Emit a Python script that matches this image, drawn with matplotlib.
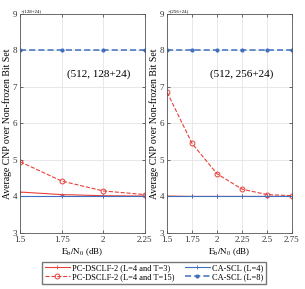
import matplotlib.pyplot as plt

plt.rcParams['font.family'] = ['Liberation Serif', 'DejaVu Serif']
plt.rcParams['mathtext.fontset'] = 'stix'

# data
snr_a = [1.5, 1.75, 2.0, 2.25]
dsclf_t3_a = [4.12, 4.05, 4.02, 4.01]
dsclf_t15_a = [4.95, 4.42, 4.15, 4.05]
scl4_a = [4.0, 4.0, 4.0, 4.0]
scl8_a = [8.0, 8.0, 8.0, 8.0]

snr_b = [1.5, 1.75, 2.0, 2.25, 2.5, 2.75]
dsclf_t3_b = [4.01, 4.0, 4.0, 4.0, 4.0, 4.0]
dsclf_t15_b = [6.85, 5.45, 4.62, 4.2, 4.05, 4.02]
scl4_b = [4.0, 4.0, 4.0, 4.0, 4.0, 4.0]
scl8_b = [8.0, 8.0, 8.0, 8.0, 8.0, 8.0]

red = '#e8403a'
blue = '#3f6fbf'

fig = plt.figure(figsize=(3.05, 2.89), dpi=100)
ax1 = fig.add_axes([0.066, 0.194, 0.409, 0.758])
ax2 = fig.add_axes([0.548, 0.194, 0.409, 0.758])

panels = [
    (ax1, snr_a, dsclf_t3_a, dsclf_t15_a, scl4_a, scl8_a, '(512, 128+24)', '×(128+24)', 1.97),
    (ax2, snr_b, dsclf_t3_b, dsclf_t15_b, scl4_b, scl8_b, '(512, 256+24)', '×(256+24)', 2.25),
]

for ax, x, t3, t15, s4, s8, note, expo, tx in panels:
    l1, = ax.plot(x, t3, '-', color=red, lw=0.8, marker='+', ms=3, mew=0.6)
    l2, = ax.plot(x, t15, '--', color=red, lw=0.8, marker='o', ms=3.5, mfc='none', mew=0.7)
    l3, = ax.plot(x, s4, '-', color=blue, lw=0.8, marker='+', ms=3, mew=0.6)
    l4, = ax.plot(x, s8, '--', color=blue, lw=1.1, marker='.', ms=4, dashes=(4, 2))
    ax.set_xlim(x[0], x[-1])
    ax.set_ylim(3, 9)
    ax.set_xticks(x)
    ax.set_xticklabels(['%g' % v for v in x])
    ax.set_yticks(range(3, 10))
    ax.grid(True, color='#e4e4e4', lw=0.6)
    ax.set_axisbelow(True)
    ax.tick_params(direction='in', length=2, width=0.5, labelsize=6.5,
                   top=True, right=True, colors='#333333')
    ax.tick_params(axis='x', pad=2.5)
    ax.tick_params(axis='y', pad=2)
    for sp in ax.spines.values():
        sp.set_color('#555555')
        sp.set_linewidth(0.6)
    ax.set_xlabel(r'$\mathrm{E_b/N_0}$ (dB)', fontsize=6.5, labelpad=1.5)
    ax.set_ylabel('Average CNP over Non-frozen Bit Set', fontsize=7, labelpad=0.5)
    ax.text(tx, 7.35, note, fontsize=8, ha='center', va='center')
    ax.text(0.0, 1.005, expo, transform=ax.transAxes, fontsize=3.5, ha='left', va='bottom')

fig.legend([l1, l2, l3, l4],
           ['PC-DSCLF-2 (L=4 and T=3)', 'PC-DSCLF-2 (L=4 and T=15)',
            'CA-SCL (L=4)', 'CA-SCL (L=8)'],
           loc='lower center', bbox_to_anchor=(0.505, 0.018), ncol=2,
           fontsize=6, frameon=True, fancybox=False, edgecolor='#555555',
           handlelength=3, columnspacing=1.2, labelspacing=0.15,
           borderpad=0.3, handletextpad=0.3, borderaxespad=0)

fig.savefig('out.png', dpi=100)
